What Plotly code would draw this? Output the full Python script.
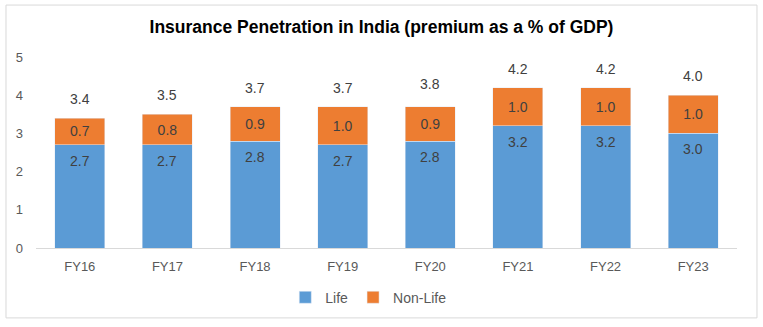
import plotly.graph_objects as go

# Insurance penetration (premium as % of GDP)
years = ["FY16", "FY17", "FY18", "FY19", "FY20", "FY21", "FY22", "FY23"]
life = [2.7, 2.7, 2.8, 2.7, 2.8, 3.2, 3.2, 3.0]
non_life = [0.7, 0.8, 0.9, 1.0, 0.9, 1.0, 1.0, 1.0]
totals = [3.4, 3.5, 3.7, 3.7, 3.8, 4.2, 4.2, 4.0]

FONT = "Liberation Sans, Arial, sans-serif"
LABEL = dict(family=FONT, size=14, color="#404040")

fig = go.Figure()
fig.add_trace(go.Bar(name="Life", x=years, y=life, marker_color="#5B9BD5"))
fig.add_trace(go.Bar(
    name="Non-Life", x=years, y=non_life, marker_color="#ED7D31",
    text=[f"{v:.1f}" for v in non_life], textposition="inside",
    insidetextanchor="middle", textfont=LABEL, textangle=0,
))

# life value just below the top of the blue segment
for x, v in zip(years, life):
    fig.add_annotation(x=x, y=v, text=f"{v:.1f}", showarrow=False,
                       yshift=-16, font=LABEL)

# total value above each stack
for x, t in zip(years, totals):
    fig.add_annotation(x=x, y=t, text=f"{t:.1f}", showarrow=False,
                       yshift=19, font=LABEL)

# outer chart border
fig.add_shape(type="rect", xref="paper", yref="paper",
              x0=-0.0428, x1=1.0285, y0=-0.366, y1=1.272,
              line=dict(color="#d9d9d9", width=1), fillcolor="rgba(0,0,0,0)")

fig.update_layout(
    width=763, height=327,
    margin=dict(l=36, r=26, t=57, b=79),
    paper_bgcolor="white", plot_bgcolor="white",
    barmode="stack", bargap=0.43,
    uniformtext=dict(mode=False),
    title=dict(text="<b>Insurance Penetration in India (premium as a % of GDP)</b>",
               x=0.5, xanchor="center", y=0.917, yanchor="middle",
               font=dict(family=FONT, size=17.5, color="black")),
    font=dict(family=FONT, size=13, color="#595959"),
    legend=dict(orientation="h", x=0.474, xanchor="center", y=-0.26,
                yanchor="middle", font=dict(family=FONT, size=14, color="#595959"),
                itemwidth=30, traceorder="normal"),
    xaxis=dict(showline=True, linecolor="#d9d9d9", linewidth=1,
               ticks="", tickfont=dict(family=FONT, size=13, color="#595959"),
               ticklabelstandoff=6),
    yaxis=dict(range=[0, 5], dtick=1, showgrid=False, zeroline=False,
               showline=False, ticks="",
               tickfont=dict(family=FONT, size=13, color="#595959"),
               ticklabelstandoff=12),
)

fig.write_html("out.html")
